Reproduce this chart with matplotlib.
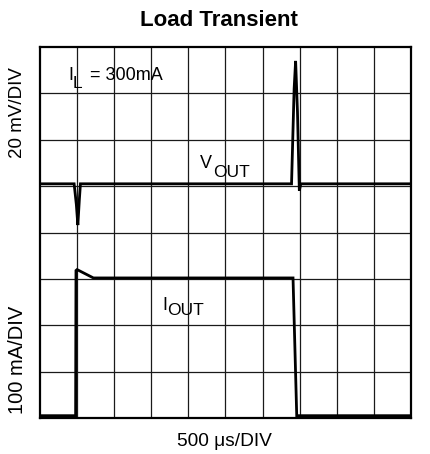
import matplotlib
matplotlib.use("Agg")
import matplotlib.pyplot as plt
import numpy as np

plt.rcParams['font.family'] = ['Liberation Sans', 'DejaVu Sans']

# Data (in screen divisions: x 0..10, y 0..8)
vout_t = [0, 0.92, 0.98, 1.02, 1.06, 1.09, 6.78, 6.85, 6.89, 6.94, 6.99, 7.03, 10]
vout_v = [5.05, 5.05, 4.6, 4.16, 4.7, 5.05, 5.05, 7.1, 7.70, 6.6, 4.90, 5.05, 5.05]
iout_t = [0, 0.96, 0.97, 1.0, 1.44, 6.82, 6.92, 10]
iout_v = [0.05, 0.05, 3.18, 3.2, 3.02, 3.02, 0.05, 0.05]

title = "Load Transient"
ylabel_top = "20 mV/DIV"
ylabel_bot = "100 mA/DIV"
xlabel = "500 μs/DIV"

fig = plt.figure(figsize=(4.31, 4.54), dpi=100)
ax = fig.add_axes([40/431, 36/454, 371/431, 371/454])
ax.set_xlim(0, 10)
ax.set_ylim(0, 8)
for x in range(1, 10):
    ax.axvline(x, color='#1a1a1a', lw=0.9, zorder=1)
for y in range(1, 8):
    ax.axhline(y, color='#1a1a1a', lw=0.9, zorder=1)
ax.plot(vout_t, vout_v, color='black', lw=2.0, zorder=3, solid_joinstyle='miter')
ax.plot(iout_t, iout_v, color='black', lw=2.0, zorder=3, solid_joinstyle='miter')
for s in ax.spines.values():
    s.set_linewidth(1.6)
ax.set_xticks([])
ax.set_yticks([])

fig.text(219/431, 1 - 20/454, title, ha='center', va='center', fontsize=16, fontweight='bold')
fig.text(224.5/431, 1 - 441/454, xlabel, ha='center', va='center', fontsize=13.8)
fig.text(18/431, 1 - 113/454, ylabel_top, ha='center', va='center', fontsize=13.5, rotation=90)
fig.text(18/431, 1 - 360/454, ylabel_bot, ha='center', va='center', fontsize=14.5, rotation=90)

fs = 13
fsub = 12.5
# I_L = 300mA
ax.text(0.76, 7.28, "I", fontsize=fs, ha='left', va='baseline')
ax.text(0.89, 7.11, "L", fontsize=fsub, ha='left', va='baseline')
ax.text(1.35, 7.28, "= 300mA", fontsize=fs, ha='left', va='baseline')
# V_OUT
ax.text(4.31, 5.39, "V", fontsize=fs, ha='left', va='baseline')
ax.text(4.66, 5.19, "OUT", fontsize=fsub, ha='left', va='baseline')
# I_OUT
ax.text(3.29, 2.33, "I", fontsize=fs, ha='left', va='baseline')
ax.text(3.42, 2.22, "OUT", fontsize=fsub, ha='left', va='baseline')

fig.savefig("out.png", dpi=100)
